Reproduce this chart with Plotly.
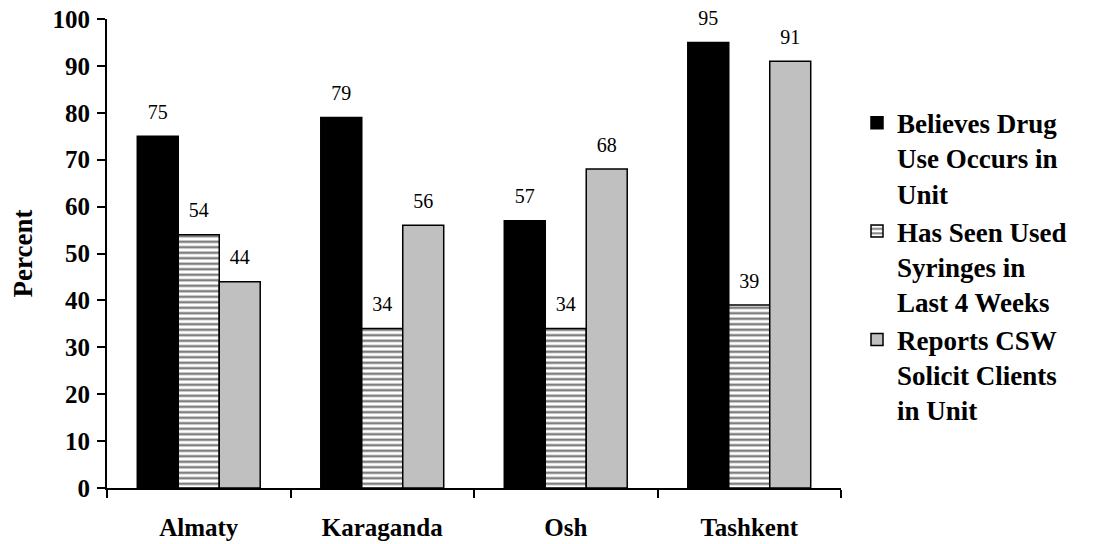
import plotly.graph_objects as go

cities = ["Almaty", "Karaganda", "Osh", "Tashkent"]
series_names = [
    "Believes Drug<br>Use Occurs in<br>Unit",
    "Has Seen Used<br>Syringes in<br>Last 4 Weeks",
    "Reports CSW<br>Solicit Clients<br>in Unit",
]
drug_use = [75, 79, 57, 95]
syringes = [54, 34, 34, 39]
csw = [44, 56, 68, 91]
y_ticks = [0, 10, 20, 30, 40, 50, 60, 70, 80, 90, 100]

FONT = "Times New Roman, Liberation Serif, serif"

values = [drug_use, syringes, csw]
fills = ["black", "white", "#c0c0c0"]
patterns = ["", "-", ""]

fig = go.Figure()
for i, (name, vals) in enumerate(zip(series_names, values)):
    fig.add_trace(go.Bar(
        x=cities, y=vals, name=name,
        offsetgroup=str(i),
        marker=dict(
            color=fills[i],
            line=dict(color="black", width=1.5),
            pattern=dict(shape=patterns[i], fgcolor="black", bgcolor="white",
                         size=5.5, solidity=0.45, fillmode="overlay") if patterns[i] else None,
        ),
    ))
for i, vals in enumerate(values):
    fig.add_trace(go.Scatter(
        x=cities, y=vals, mode="markers+text", text=[str(v) for v in vals],
        textposition="top center", offsetgroup=str(i),
        marker=dict(size=18, opacity=0), showlegend=False, hoverinfo="skip",
        textfont=dict(family=FONT, size=20, color="black"),
        cliponaxis=False,
    ))

fig.update_layout(
    width=1091, height=536,
    margin=dict(l=99, r=258, t=11, b=56),
    paper_bgcolor="white", plot_bgcolor="white",
    barmode="group", bargap=0.33, bargroupgap=0,
    scattermode="group", scattergap=0.33,
    font=dict(family=FONT, color="black"),
    legend=dict(
        x=1.0218, xanchor="left", y=0.83, yanchor="top",
        valign="top", tracegroupgap=0,
        font=dict(family=FONT, size=27, color="black", weight="bold"),
        bgcolor="rgba(0,0,0,0)",
    ),
    showlegend=True,
)
fig.update_xaxes(
    type="category", showline=True, linecolor="black", linewidth=2,
    ticks="outside", tickson="boundaries", ticklen=8, tickwidth=2, tickcolor="black",
    tickfont=dict(family=FONT, size=25, color="black", weight="bold"),
    ticklabelstandoff=16, showgrid=False, zeroline=False, automargin=False,
    ticklabeloverflow="allow",
)
fig.update_yaxes(
    range=[0, 100], tickvals=y_ticks, showline=True, linecolor="black", linewidth=2,
    ticks="outside", ticklen=8, tickwidth=2, tickcolor="black",
    tickfont=dict(family=FONT, size=25, color="black", weight="bold"),
    ticklabelstandoff=2, showgrid=False, zeroline=False, automargin=False,
    ticklabeloverflow="allow",
    title=dict(text="Percent", font=dict(family=FONT, size=27, color="black", weight="bold"),
               standoff=14),
)

fig.write_html("out.html")
